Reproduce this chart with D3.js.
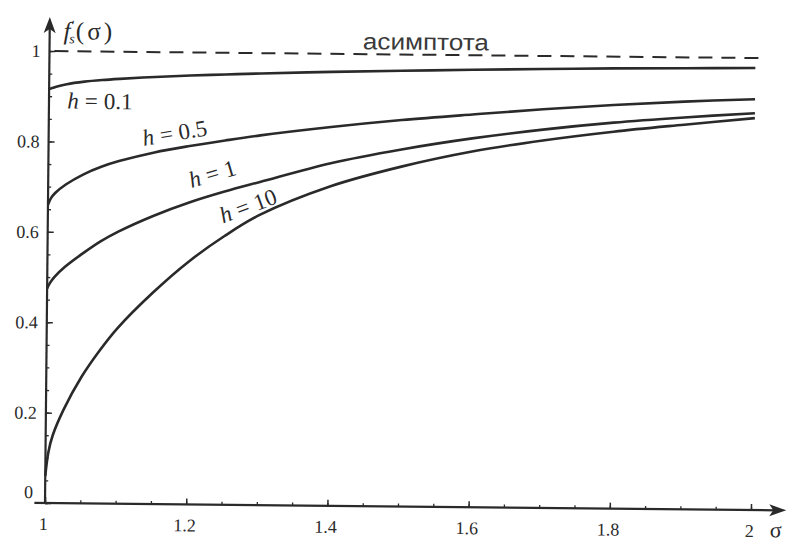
<!DOCTYPE html>
<html>
<head>
<meta charset="utf-8">
<script src="https://cdn.jsdelivr.net/npm/d3@7"></script>
<style>
  html, body { margin: 0; padding: 0; background: #ffffff; }
  svg { display: block; }
</style>
</head>
<body>
<svg id="chart" width="789" height="543"></svg>
<script>
// ---- data ----
const sigma   = [1.0, 1.004, 1.01, 1.025, 1.05, 1.075, 1.1, 1.15, 1.2, 1.25, 1.3, 1.4, 1.5, 1.6, 1.7, 1.8, 1.9, 2.0];
const h01     = [0.916, 0.918, 0.921, 0.927, 0.933, 0.937, 0.940, 0.945, 0.949, 0.952, 0.955, 0.960, 0.964, 0.968, 0.971, 0.974, 0.976, 0.978];
const h05     = [0.660, 0.674, 0.686, 0.705, 0.728, 0.745, 0.758, 0.778, 0.793, 0.806, 0.818, 0.838, 0.855, 0.869, 0.882, 0.893, 0.902, 0.909];
const h1      = [0.475, 0.487, 0.500, 0.523, 0.553, 0.580, 0.602, 0.638, 0.668, 0.693, 0.715, 0.758, 0.790, 0.816, 0.837, 0.854, 0.867, 0.878];
const h10     = [0.060, 0.112, 0.150, 0.207, 0.280, 0.338, 0.388, 0.468, 0.537, 0.594, 0.642, 0.707, 0.752, 0.787, 0.813, 0.834, 0.851, 0.867];
const seriesNames = ["h = 0.1", "h = 0.5", "h = 1", "h = 10"];
const asymptote = 1;
const asymptoteLabel = "асимптота";
const xMajorTicks = [1, 1.2, 1.4, 1.6, 1.8, 2];
const xTickLabels = ["1", "1.2", "1.4", "1.6", "1.8", "2"];
const yMajorTicks = [0, 0.2, 0.4, 0.6, 0.8, 1];
const yTickLabels = ["0", "0.2", "0.4", "0.6", "0.8", "1"];
const xMinorTicks = d3.range(1, 2.001, 0.05);
const yMinorTicks = d3.range(0, 1.001, 0.05);
const xAxisEnd = 2.05, yAxisEnd = 1.075, asymptoteEnd = 2.016;

// ---- layout ----
const svg = d3.select("#chart");
const ink = "#2a2a2a";
const serif = "'Liberation Serif', 'Tinos', 'Times New Roman', 'DejaVu Serif', 'Noto Serif', serif";
const x = d3.scaleLinear().domain([1, 2]).range([45, 751]);
const y = d3.scaleLinear().domain([0, 1]).range([503, 51]);

// the scanned figure is slightly rotated
const g = svg.append("g").attr("transform", `rotate(0.57, ${x(1)}, ${y(0)})`);

// minor ticks
g.append("g").attr("transform", `translate(0,${y(0)})`)
  .call(d3.axisBottom(x).tickValues(xMinorTicks).tickSize(-3).tickFormat(""))
  .call(s => { s.select(".domain").remove(); s.selectAll("line").attr("stroke", ink).attr("stroke-width", 1.3); });
g.append("g").attr("transform", `translate(${x(1)},0)`)
  .call(d3.axisLeft(y).tickValues(yMinorTicks).tickSize(-3).tickFormat(""))
  .call(s => { s.select(".domain").remove(); s.selectAll("line").attr("stroke", ink).attr("stroke-width", 1.3); });

// major ticks with labels
const xa = g.append("g").attr("transform", `translate(0,${y(0)})`)
  .call(d3.axisBottom(x).tickValues(xMajorTicks).tickSize(-6).tickPadding(0)
        .tickFormat((d, i) => xTickLabels[i]));
xa.select(".domain").remove();
xa.selectAll("line").attr("stroke", ink).attr("stroke-width", 1.5);
xa.selectAll("text").style("font-family", serif).style("font-size", "18px").attr("fill", ink)
  .attr("y", 27).attr("dy", 0).attr("dx", -2);

const ya = g.append("g").attr("transform", `translate(${x(1)},0)`)
  .call(d3.axisLeft(y).tickValues(yMajorTicks).tickSize(-6).tickPadding(9)
        .tickFormat((d, i) => yTickLabels[i]));
ya.select(".domain").remove();
ya.selectAll("line").attr("stroke", ink).attr("stroke-width", 1.5);
ya.selectAll("text").style("font-family", serif).style("font-size", "18px").attr("fill", ink)
  .attr("dy", d => d === 0 ? "-0.3em" : "0.32em")
  .attr("x", d => d === 0 ? -12 : -9);

// axis lines with arrows
g.append("line").attr("x1", x(0.985)).attr("x2", x(xAxisEnd) - 10)
  .attr("y1", y(0)).attr("y2", y(0)).attr("stroke", ink).attr("stroke-width", 2.2);
g.append("line").attr("x1", x(1)).attr("x2", x(1))
  .attr("y1", y(0)).attr("y2", y(yAxisEnd) + 10).attr("stroke", ink).attr("stroke-width", 2.2);
const xe = x(xAxisEnd), ye = y(yAxisEnd);
g.append("path").attr("d", `M${xe},${y(0)} L${xe - 17},${y(0) - 6} L${xe - 13},${y(0)} L${xe - 17},${y(0) + 6} Z`).attr("fill", ink);
g.append("path").attr("d", `M${x(1)},${ye} L${x(1) - 6},${ye + 16} L${x(1)},${ye + 12} L${x(1) + 6},${ye + 16} Z`).attr("fill", ink);

// asymptote
g.append("line").attr("x1", x(1.007)).attr("x2", x(asymptoteEnd))
  .attr("y1", y(asymptote)).attr("y2", y(asymptote))
  .attr("stroke", ink).attr("stroke-width", 2).attr("stroke-dasharray", "14,9");
g.append("text").attr("x", x(1.533)).attr("y", y(asymptote) - 5)
  .attr("text-anchor", "middle").style("font-family", "'Liberation Sans', Arial, sans-serif")
  .style("font-size", "23px").attr("fill", "#3a3a3a")
  .attr("textLength", 126).attr("lengthAdjust", "spacingAndGlyphs").text(asymptoteLabel);

// curves
const line = d3.line().x((d, i) => x(sigma[i])).y(d => y(d)).curve(d3.curveCatmullRom.alpha(0.5));
[h01, h05, h1, h10].forEach(vals => {
  g.append("path").attr("d", line(vals)).attr("fill", "none")
    .attr("stroke", ink).attr("stroke-width", 2.6);
});

// curve labels
const labelPos = [
  {sx: 1.026, fy: 0.873, rot: 0},
  {sx: 1.135, fy: 0.792, rot: -10},
  {sx: 1.203, fy: 0.700, rot: -17},
  {sx: 1.248, fy: 0.622, rot: -21}
];
seriesNames.forEach((name, i) => {
  const p = labelPos[i];
  const t = g.append("text")
    .attr("transform", `translate(${x(p.sx)},${y(p.fy)}) rotate(${p.rot})`)
    .style("font-family", serif).style("font-size", "23px").attr("fill", ink);
  const parts = name.split(" = ");
  t.append("tspan").attr("font-style", "italic").text(parts[0]);
  t.append("tspan").attr("dx", 6).text("=");
  t.append("tspan").attr("dx", 6).text(parts[1]);
});

// axis titles
const yt = g.append("text").attr("x", x(1) + 14).attr("y", y(1) - 12)
  .style("font-family", serif).style("font-size", "25px").attr("fill", ink);
yt.append("tspan").attr("font-style", "italic").text("f");
yt.append("tspan").style("font-size", "13px").attr("dy", -10).attr("dx", 1).text("′");
yt.append("tspan").style("font-size", "14px").attr("font-style", "italic").attr("dy", 14).attr("dx", -5).text("s");
yt.append("tspan").attr("dy", -4).attr("dx", 1).attr("letter-spacing", 3).text("(σ)");

g.append("text").attr("x", x(2) + 19).attr("y", y(0) + 27)
  .style("font-family", serif).style("font-size", "22px").attr("fill", ink).text("σ");
</script>
</body>
</html>
